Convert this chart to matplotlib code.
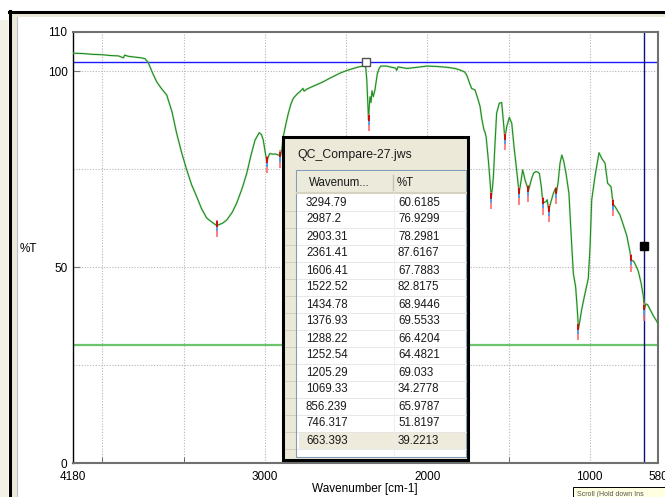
import numpy as np
import matplotlib
matplotlib.use("Agg")
import matplotlib.pyplot as plt
from matplotlib.patches import Rectangle

plt.rcParams['font.family'] = ['Liberation Sans', 'DejaVu Sans']

# IR spectrum, wavenumber [cm-1] vs %T
spec_wn = [4180, 4120, 4060, 4000, 3950, 3900, 3870, 3862, 3840, 3800, 3760, 3737,
           3717, 3690, 3665, 3640, 3603, 3570, 3542, 3510, 3480, 3450, 3419, 3390,
           3357, 3320, 3294.79, 3260, 3234, 3200, 3173, 3140, 3111, 3085, 3060, 3034,
           3020, 3009, 2998, 2987.2, 2975, 2968, 2950, 2937, 2915, 2903.31, 2895, 2886,
           2870, 2855, 2840, 2824, 2800, 2783, 2765, 2758, 2742, 2700, 2640, 2600,
           2537, 2500, 2455, 2420, 2394, 2380, 2372, 2366, 2361.41, 2356, 2352, 2346,
           2340, 2332, 2322, 2307, 2295, 2286, 2250, 2220, 2195, 2188, 2180, 2126,
           2060, 2003, 1940, 1880, 1830, 1798, 1770, 1757, 1740, 1727, 1706, 1686,
           1675, 1665, 1651, 1645, 1638, 1624, 1614, 1606.41, 1598, 1593, 1583, 1573,
           1557, 1542, 1532, 1522.52, 1511, 1495, 1480, 1466, 1450, 1434.78, 1425, 1413,
           1405, 1398, 1376.93, 1357, 1345, 1331, 1318, 1310, 1298, 1288.22, 1269, 1262,
           1252.54, 1240, 1224, 1212, 1205.29, 1195, 1183, 1172, 1160, 1146, 1128, 1115,
           1101, 1087, 1078, 1069.33, 1060, 1050, 1029, 1009, 998, 988, 968, 943,
           927, 906, 890, 869, 856.239, 845, 835, 814, 793, 772, 752, 746.317,
           730, 715, 701, 684, 670, 663.393, 655, 644, 630, 609, 588, 580]
spec_t = [104.6, 104.5, 104.3, 104.2, 104.0, 103.9, 103.4, 104.1, 103.8, 103.6, 103.4, 103.2,
          102.2, 99.5, 97.3, 95.8, 93.9, 89.5, 84.1, 79.0, 74.8, 71.0, 68.0, 65.0,
          62.5, 61.3, 60.6, 61.2, 62.0, 64.0, 66.3, 70.0, 73.9, 78.5, 82.4, 84.3,
          83.8, 82.4, 79.5, 76.9, 78.5, 79.0, 78.8, 78.9, 78.6, 78.3, 80.0, 83.3,
          86.5, 89.2, 91.5, 93.1, 94.2, 94.8, 95.6, 94.9, 95.4, 96.2, 97.3, 98.2,
          99.5, 100.1, 100.7, 101.1, 101.3, 101.6, 97.8, 92.0, 87.6, 91.5, 93.5, 92.0,
          95.0, 93.5, 95.2, 99.4, 100.8, 101.3, 101.3, 101.0, 100.8, 100.2, 101.1, 100.7,
          101.0, 101.3, 101.2, 101.0, 100.7, 100.3, 99.8, 99.0, 97.0, 95.6, 95.2, 92.6,
          91.0, 88.0, 85.0, 84.5, 83.3, 77.3, 72.2, 67.8, 70.5, 73.1, 81.6, 89.3,
          91.8, 92.0, 87.5, 82.8, 85.8, 88.2, 86.7, 80.7, 74.8, 68.9, 71.4, 74.8,
          73.5, 72.2, 69.6, 72.7, 74.0, 74.4, 74.2, 73.9, 70.5, 66.4, 66.7, 67.2,
          64.5, 66.5, 68.8, 70.0, 69.0, 71.5, 76.5, 78.6, 77.0, 73.9, 68.8, 58.6,
          48.4, 45.0, 40.0, 34.3, 36.5, 39.1, 43.3, 47.1, 55.2, 67.1, 73.1, 79.2,
          77.8, 76.5, 71.4, 70.5, 66.0, 65.5, 64.8, 63.3, 60.7, 58.0, 53.8, 51.8,
          51.5, 50.3, 48.9, 45.9, 42.5, 39.2, 40.6, 40.4, 39.3, 37.6, 36.2, 35.5]

# picked peaks
peak_wn = [3294.79, 2987.2, 2903.31, 2361.41, 1606.41, 1522.52, 1434.78, 1376.93,
           1288.22, 1252.54, 1205.29, 1069.33, 856.239, 746.317, 663.393]
peak_t = [60.6185, 76.9299, 78.2981, 87.6167, 67.7883, 82.8175, 68.9446, 69.5533,
          66.4204, 64.4821, 69.033, 34.2778, 65.9787, 51.8197, 39.2213]

cursor_t = 102.35
cursor_wn = 2380
threshold_t = 30.0
point_t = 55.3

grid_x = [4000, 3500, 3000, 2500, 2000, 1500, 1000]
grid_y = [25, 50, 75, 100]

fig = plt.figure(figsize=(6.65, 4.97), dpi=100)
fig.patch.set_facecolor('white')

# window chrome behind the plot
bg = fig.add_axes([0, 0, 1, 1], zorder=-5)
bg.set_xlim(0, 665)
bg.set_ylim(497, 0)
bg.axis('off')
bg.add_patch(Rectangle((0, 20), 8, 477, color='#f3f1e6', lw=0))
bg.add_patch(Rectangle((11, 13), 7, 484, color='#ece9d8', lw=0))
bg.add_patch(Rectangle((11, 13), 654, 4, color='#ece9d8', lw=0))
bg.plot([16.5, 16.5], [17, 497], color='#b4c0d4', lw=0.8)
bg.plot([9.5, 9.5], [11, 497], color='black', lw=2.2)
bg.plot([9, 665], [11.5, 11.5], color='black', lw=2.2)

ax = fig.add_axes([73 / 665, 34 / 497, 585 / 665, 431 / 497])
ax.set_xlim(4180, 580)
ax.set_ylim(0, 110)

ax.vlines(grid_x, 0, 110, colors='#b5b5b5', linestyles=(0, (1, 1.5)), lw=0.8, zorder=1)
ax.hlines(grid_y, 4180, 580, colors='#b5b5b5', linestyles=(0, (1, 1.5)), lw=0.8, zorder=1)

ax.axhline(threshold_t, color='#6cc46c', lw=1.6, zorder=2)
ax.axhline(cursor_t, color='#1a1aff', lw=1.0, zorder=2)
ax.axvline(peak_wn[-1], color='#10107a', lw=1.0, zorder=2)

ax.plot(spec_wn, spec_t, color='#9dd49d', lw=1.6, alpha=0.45, zorder=3)
ax.plot(spec_wn, spec_t, color='#1d8c1d', lw=0.8, zorder=4)

# peak pick ticks
pw = np.array(peak_wn)
pt = np.array(peak_t)
ax.vlines(pw, pt - 3.0, pt + 1.5, colors='#ff6b6b', lw=1.2, zorder=5)
ax.vlines(pw, pt - 0.3, pt + 1.2, colors='#c00000', lw=1.2, zorder=6)
ax.vlines(pw, pt - 1.4, pt - 0.3, colors='#3aa0ff', lw=1.2, zorder=6)

ax.plot([cursor_wn], [cursor_t], marker='s', ms=5.5, mfc='white', mec='#505050',
        mew=1.0, zorder=7)
ax.plot([peak_wn[-1]], [point_t], marker='s', ms=6, mfc='black', mec='black', zorder=7)

ax.set_xticks([4180, 3000, 2000, 1000, 580])
ax.set_xticks(grid_x, minor=True)
ax.set_yticks([0, 50, 100, 110])
ax.tick_params(axis='x', which='major', length=0, pad=6, labelsize=8.5)
ax.tick_params(axis='x', which='minor', direction='in', length=4, color='#555555')
ax.tick_params(axis='y', direction='in', length=5, color='#777777', pad=4, labelsize=8.5)

ax.set_xlabel('Wavenumber [cm-1]', fontsize=8.5)
ax.xaxis.set_label_coords(0.499, -0.046)
ax.set_ylabel('%T', rotation=0, fontsize=8.5)
ax.yaxis.set_label_coords(-0.077, 0.483)

for side in ['top', 'right', 'bottom']:
    ax.spines[side].set_color('#707070')
    ax.spines[side].set_linewidth(1.5)
ax.spines['left'].set_color('black')
ax.spines['left'].set_linewidth(1.0)

# peak table dialog on top
top = fig.add_axes([0, 0, 1, 1], zorder=10)
top.set_xlim(0, 665)
top.set_ylim(497, 0)
top.axis('off')
top.patch.set_alpha(0)

top.add_patch(Rectangle((283, 137), 185, 323, facecolor='#ece9d8', edgecolor='black',
                        lw=2.2, zorder=1))
top.text(297, 155, 'QC_Compare-27.jws', fontsize=8.8, va='center', ha='left',
         color='#1a1a1a', zorder=2)
top.add_patch(Rectangle((296, 170), 170, 287, facecolor='white', edgecolor='#7f9db9',
                        lw=0.8, zorder=2))
top.add_patch(Rectangle((297, 171), 169, 22, facecolor='#ebeadb', lw=0, zorder=3))
top.plot([297, 466], [192.5, 192.5], color='#d6d2c2', lw=1.5, zorder=4)
top.plot([393, 393], [175, 190], color='#c5c2b2', lw=1.0, zorder=4)
top.text(309, 183, 'Wavenum...', fontsize=8.3, va='center', color='#1a1a1a', zorder=5)
top.text(397, 183, '%T', fontsize=8.3, va='center', color='#1a1a1a', zorder=5)

row_h = 17
n = len(peak_wn)
top.add_patch(Rectangle((299, 194 + row_h * (n - 1)), 167, row_h, facecolor='#eeebdc',
                        lw=0, zorder=3))
for i, (w, t) in enumerate(zip(peak_wn, peak_t)):
    y0 = 194 + row_h * i
    top.plot([297, 466], [y0 + row_h, y0 + row_h], color='#e4e4e4', lw=0.6, zorder=4)
    top.plot([285, 295], [y0 + row_h, y0 + row_h], color='#cfcbbb', lw=0.6, zorder=4)
    top.text(306, y0 + row_h / 2, '%.6g' % w, fontsize=8.3, va='center', color='#1a1a1a',
             zorder=5)
    top.text(398, y0 + row_h / 2, '%.6g' % t, fontsize=8.3, va='center', color='#1a1a1a',
             zorder=5)
top.plot([394, 394], [193, 456], color='#ececec', lw=0.6, zorder=4)

# status tooltip at the bottom edge
top.add_patch(Rectangle((573, 487), 95, 14, facecolor='#ffffe1', edgecolor='black',
                        lw=0.7, zorder=1))
top.text(577, 494, 'Scroll (Hold down Ins', fontsize=5, va='center', color='#555555',
         zorder=2)

fig.savefig('out.png', dpi=100)
